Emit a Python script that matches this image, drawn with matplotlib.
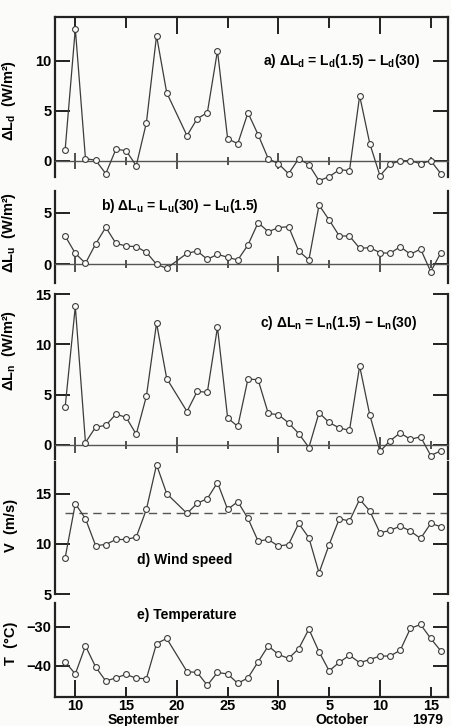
import matplotlib
matplotlib.use("Agg")
import matplotlib.pyplot as plt
import matplotlib.transforms as mtransforms

plt.rcParams['font.family'] = ['Liberation Sans', 'DejaVu Sans']
plt.rcParams['font.weight'] = 'bold'
plt.rcParams['axes.labelweight'] = 'bold'
plt.rcParams['mathtext.default'] = 'regular'
plt.rcParams['font.size'] = 9.5

# ---------------- data ----------------
days = [9, 10, 11, 12, 13, 14, 15, 16, 17, 18, 19,
        21, 22, 23, 24, 25, 26, 27, 28, 29, 30,
        31, 32, 33, 34, 35, 36, 37, 38, 39, 40,
        41, 42, 43, 44, 45, 46]

dLd = [1.1, 13.2, 0.2, 0.05, -1.3, 1.15, 1.0, -0.5, 3.8, 12.5, 6.8,
       2.5, 4.2, 4.8, 11.0, 2.2, 1.7, 4.8, 2.6, 0.2, -0.3,
       -1.3, 0.2, -0.4, -2.0, -1.6, -0.9, -1.0, 6.5, 1.7, -1.5,
       -0.35, 0.0, 0.0, -0.3, 0.0, -1.3]

dLu = [2.74, 1.06, 0.1, 1.97, 3.58, 2.03, 1.77, 1.71, 1.16, 0.0, -0.39,
       1.06, 1.29, 0.48, 0.97, 0.68, 0.42, 1.87, 4.03, 3.16, 3.55,
       3.65, 1.29, 0.42, 5.74, 4.29, 2.74, 2.74, 1.55, 1.61, 1.13,
       1.06, 1.71, 0.97, 1.48, -0.71, 1.13]

dLn = [3.77, 13.77, 0.23, 1.77, 1.94, 3.06, 2.74, 1.06, 4.84, 12.1, 6.6,
       3.32, 5.32, 5.23, 11.7, 2.68, 1.84, 6.55, 6.48, 3.13, 3.0,
       2.19, 1.13, -0.26, 3.19, 2.23, 1.68, 1.45, 7.84, 2.97, -0.65,
       0.42, 1.19, 0.55, 0.81, -1.06, -0.58]

V = [8.6, 14.0, 12.5, 9.83, 9.93, 10.43, 10.43, 10.67, 13.43, 17.87, 15.0,
     13.03, 14.03, 14.5, 16.1, 13.43, 14.2, 12.53, 10.27, 10.43, 9.77,
     9.93, 12.03, 10.6, 7.1, 9.93, 12.5, 12.27, 14.43, 13.27, 11.1,
     11.33, 11.77, 11.27, 10.53, 12.03, 11.7]

T = [-39.0, -42.1, -34.9, -40.3, -43.9, -43.1, -42.2, -43.2, -43.3, -34.3, -33.0,
     -41.5, -41.7, -45.0, -41.7, -42.1, -44.5, -43.1, -39.0, -34.9, -37.1,
     -38.1, -35.6, -30.6, -36.4, -41.3, -39.1, -37.3, -39.2, -38.4, -37.5,
     -37.5, -36.0, -30.4, -29.4, -33.0, -36.2]

V_mean = 13.1

xtick_major = [10, 20, 30, 40]
xtick_major_labels = ['10', '20', '30', '10']
xtick_minor = [15, 25, 35, 45]
xtick_minor_labels = ['15', '25', '5', '15']

month_labels = ['September', 'October', '1979']
month_pos = [16.7, 36.3, 44.7]

# ---------------- figure ----------------
W, H = 452, 726
fig = plt.figure(figsize=(W / 100, H / 100), dpi=100)
fig.patch.set_facecolor('#fbfbf9')

LINE = '#3c3c3c'
SPINE = '#222222'

def pix_axes(top, bottom):
    left = 55 / W
    width = 393 / W
    return [left, (H - bottom) / H, width, (bottom - top) / H]

XLIM = (8.0, 46.7)

def base(ax, ylim, yticks):
    ax.set_facecolor('none')
    ax.set_xlim(*XLIM)
    ax.set_ylim(*ylim)
    for s in ['left', 'right']:
        ax.spines[s].set_linewidth(1.6)
        ax.spines[s].set_color(SPINE)
    ax.spines['top'].set_visible(False)
    ax.set_yticks(yticks)
    ax.tick_params(axis='y', which='both', direction='in', left=True, right=True,
                   length=11, width=1.4, color=SPINE, pad=2.5, labelsize=10.5,
                   labelleft=True, labelright=False)

def series(ax, y):
    ax.plot(days, y, color=LINE, lw=0.9, marker='o', ms=4.2,
            mfc='#fbfbf9', mec=LINE, mew=0.8, zorder=3, clip_on=False)

def zero_axis(ax):
    sp = ax.spines['bottom']
    sp.set_position(('data', 0))
    sp.set_linewidth(1.0)
    sp.set_color('#555555')
    ax.set_xticks(xtick_major)
    ax.set_xticks(xtick_minor, minor=True)
    ax.tick_params(axis='x', which='major', direction='inout', length=11, width=1.2,
                   color='#333333', labelbottom=False)
    ax.tick_params(axis='x', which='minor', direction='inout', length=6, width=1.2,
                   color='#333333', labelbottom=False)

# a) ---------------------------------
axa = fig.add_axes(pix_axes(17, 177))
base(axa, (-1.63, 14.37), [0, 5, 10])
zero_axis(axa)
series(axa, dLd)
sec = axa.secondary_xaxis('top')
sec.spines['top'].set_linewidth(1.6)
sec.spines['top'].set_color(SPINE)
sec.set_xticks(xtick_major)
sec.set_xticks(xtick_minor, minor=True)
sec.tick_params(axis='x', which='major', direction='in', length=12, width=1.4,
                color=SPINE, labeltop=False)
sec.tick_params(axis='x', which='minor', direction='in', length=8, width=1.4,
                color=SPINE, labeltop=False)
axa.text(28.5, 10, r'a) $\Delta$L$_d$ = L$_d$(1.5) $-$ L$_d$(30)', fontsize=10,
         ha='left', va='center')
axa.set_ylabel(r'$\Delta$L$_d$  (W/m²)', fontsize=10.5)
axa.yaxis.set_label_coords(-0.094, 0.48)

# b) ---------------------------------
axb = fig.add_axes(pix_axes(190.7, 283.3))
base(axb, (-1.84, 7.13), [0, 5])
zero_axis(axb)
series(axb, dLu)
axb.text(12.5, 5.6, r'b) $\Delta$L$_u$ = L$_u$(30) $-$ L$_u$(1.5)', fontsize=10,
         ha='left', va='center')
axb.set_ylabel(r'$\Delta$L$_u$  (W/m²)', fontsize=10.5)
axb.yaxis.set_label_coords(-0.094, 0.55)

# c) ---------------------------------
axc = fig.add_axes(pix_axes(294, 459))
base(axc, (-1.4, 15.0), [0, 5, 10, 15])
zero_axis(axc)
series(axc, dLn)
axc.text(28.2, 12.1, r'c) $\Delta$L$_n$ = L$_n$(1.5) $-$ L$_n$(30)', fontsize=10,
         ha='left', va='center')
axc.set_ylabel(r'$\Delta$L$_n$  (W/m²)', fontsize=10.5)
axc.yaxis.set_label_coords(-0.094, 0.66)

# d) ---------------------------------
axd = fig.add_axes(pix_axes(462, 594))
base(axd, (5, 18.15), [5, 10, 15])
axd.spines['bottom'].set_visible(False)
axd.set_xticks([])
series(axd, V)
axd.hlines(V_mean, 9.0, XLIM[1], colors='#555555', linestyles=(0, (6, 4)), lw=1.0)
axd.text(16.1, 8.4, 'd) Wind speed', fontsize=10, ha='left', va='center')
axd.set_ylabel('V  (m/s)', fontsize=10.5)
axd.yaxis.set_label_coords(-0.094, 0.52)

# e) ---------------------------------
axe = fig.add_axes(pix_axes(603, 697))
base(axe, (-48.0, -23.9), [-30, -40])
axe.spines['bottom'].set_linewidth(1.6)
axe.spines['bottom'].set_color(SPINE)
series(axe, T)
axe.set_xticks(xtick_major)
axe.set_xticklabels(xtick_major_labels)
axe.set_xticks(xtick_minor, minor=True)
axe.set_xticklabels(xtick_minor_labels, minor=True)
axe.tick_params(axis='x', which='major', direction='in', length=12, width=1.4,
                color=SPINE, pad=1.5, labelsize=10.5)
axe.tick_params(axis='x', which='minor', direction='in', length=7, width=1.4,
                color=SPINE, pad=1.5, labelsize=10.5)
axe.text(16.1, -27.0, 'e) Temperature', fontsize=10, ha='left', va='center')
axe.set_ylabel('T  (°C)', fontsize=10.5)
axe.yaxis.set_label_coords(-0.094, 0.57)

trans = mtransforms.blended_transform_factory(axe.transData, axe.transAxes)
for lab, xp in zip(month_labels, month_pos):
    axe.text(xp, -0.245, lab, transform=trans, ha='center', va='center', fontsize=10)

fig.savefig('out.png', dpi=100, facecolor=fig.get_facecolor())
